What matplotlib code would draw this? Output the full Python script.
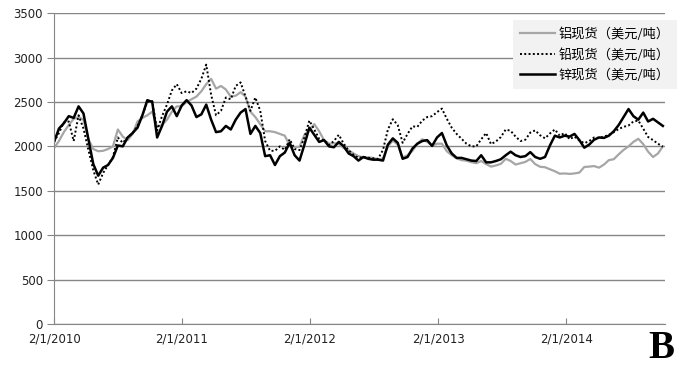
import matplotlib
matplotlib.use("Agg")
import matplotlib.pyplot as plt
import pandas as pd

# fortnightly spot prices, USD/t
dates = pd.date_range("2010-02-01", periods=125, freq="14D")

aluminium = [
    1980, 2060, 2160, 2240, 2310, 2330, 2300, 2080, 1970, 1945,
    1950, 1970, 2000, 2190, 2110, 2070, 2140, 2280, 2320, 2350,
    2390, 2220, 2240, 2300, 2390, 2450, 2450, 2500, 2530, 2560,
    2620, 2700, 2760, 2650, 2680, 2640, 2560, 2570, 2610, 2560,
    2390, 2330, 2250, 2170, 2170, 2160, 2140, 2120, 2010, 1990,
    1995, 2130, 2185, 2250, 2170, 2070, 2030, 2035, 2030, 1980,
    1955, 1920, 1890, 1875, 1875, 1870, 1850, 1865, 2000, 2065,
    2020, 1875, 1900, 1950, 2030, 2080, 2050, 2010, 2030, 2030,
    1945, 1900, 1865, 1845, 1838, 1822, 1810, 1835, 1800, 1772,
    1785, 1803, 1860, 1835, 1795, 1810, 1825, 1858, 1800, 1770,
    1765, 1742, 1720, 1692, 1695, 1690, 1695, 1705, 1768, 1772,
    1778, 1760, 1795, 1845, 1855, 1910, 1960, 2000, 2050, 2085,
    2025, 1940, 1880, 1920, 2000,
]

lead = [
    2050, 2150, 2270, 2280, 2060, 2350, 2200, 1960, 1730, 1570,
    1700, 1790, 1880, 2100, 2040, 2100, 2150, 2230, 2350, 2500,
    2510, 2180, 2340, 2470, 2630, 2700, 2600, 2620, 2600, 2650,
    2760, 2920, 2580, 2350, 2400, 2550, 2530, 2680, 2720, 2560,
    2400, 2550, 2400, 2060, 1950, 1950, 2000, 1960, 2080, 1970,
    1958, 2100, 2290, 2190, 2085, 2070, 2015, 2060, 2130, 2030,
    1955, 1905, 1870, 1880, 1872, 1865, 1860, 1960, 2190, 2305,
    2240, 2040, 2140, 2225, 2220, 2290, 2330, 2340, 2385, 2425,
    2310, 2210, 2140, 2085, 2030, 2000, 2000, 2080, 2150, 2025,
    2055, 2105, 2190, 2175, 2110, 2060, 2075, 2155, 2180, 2125,
    2090, 2145, 2190, 2120, 2150, 2080, 2110, 2065, 2035, 2060,
    2100, 2095, 2110, 2130, 2160, 2195, 2220, 2235, 2280, 2290,
    2200, 2105, 2070, 2030, 1995,
]

zinc = [
    2050, 2200, 2260, 2340, 2320, 2450, 2370, 2080, 1800, 1670,
    1760, 1790, 1870, 2010, 2000, 2100, 2150, 2210, 2350, 2520,
    2500, 2100, 2230, 2390, 2450, 2340, 2460, 2520, 2460, 2330,
    2360, 2470, 2300, 2160, 2170, 2230, 2190, 2300, 2380, 2420,
    2140, 2230, 2150, 1890, 1900, 1790, 1890, 1930, 2040, 1900,
    1840, 2020, 2210, 2130, 2050, 2070, 2000, 1990, 2050, 2000,
    1920, 1890, 1840, 1880, 1860, 1850, 1850, 1840, 2020, 2090,
    2040, 1860, 1880, 1975, 2030, 2060, 2070, 2005, 2100, 2150,
    2010, 1920, 1870, 1870, 1855, 1840, 1835, 1900, 1820, 1820,
    1835, 1855, 1900, 1940, 1900, 1880, 1890, 1935, 1880, 1860,
    1880, 2010, 2120, 2100, 2120, 2110, 2140, 2070, 1985, 2020,
    2075, 2100, 2095, 2120, 2170, 2240, 2330, 2420, 2340, 2300,
    2380, 2280, 2310, 2270, 2230,
]

labels = ["铝现货（美元/吨）", "铅现货（美元/吨）", "锌现货（美元/吨）"]
tick_dates = pd.to_datetime(["2010-02-01", "2011-02-01", "2012-02-01",
                             "2013-02-01", "2014-02-01"])
tick_labels = ["2/1/2010", "2/1/2011", "2/1/2012", "2/1/2013", "2/1/2014"]

plt.rcParams["font.family"] = ["Noto Sans CJK SC", "DejaVu Sans"]

fig = plt.figure(figsize=(6.83, 3.75), dpi=100)
ax = fig.add_axes([0.0791, 0.136, 0.8945, 0.829])

ax.plot(dates, aluminium, color="#a6a6a6", lw=1.6, label=labels[0])
ax.plot(dates, lead, color="black", lw=1.4, ls=(0, (1, 1.2)), label=labels[1])
ax.plot(dates, zinc, color="black", lw=1.8, label=labels[2])

ax.set_ylim(0, 3500)
ax.set_yticks(range(0, 3501, 500))
ax.set_xlim(pd.Timestamp("2010-02-01"), pd.Timestamp("2014-11-09"))
ax.set_xticks(tick_dates)
ax.set_xticklabels(tick_labels)

ax.grid(axis="y", color="#868686", lw=1)
ax.set_axisbelow(True)
for s in ["top", "right"]:
    ax.spines[s].set_visible(False)
for s in ["left", "bottom"]:
    ax.spines[s].set_color("#868686")
ax.tick_params(axis="y", direction="out", length=5, color="#868686",
               labelsize=8.5, labelcolor="#222222", pad=3)
ax.tick_params(axis="x", direction="in", length=4, color="#868686",
               labelsize=8.5, labelcolor="#222222", pad=6)
for t in ax.get_xticklabels() + ax.get_yticklabels():
    t.set_family("DejaVu Sans")

leg = ax.legend(loc="upper right", bbox_to_anchor=(0.991, 0.947),
                bbox_transform=fig.transFigure, fontsize=9.5, frameon=True,
                fancybox=False, facecolor="#f2f2f2", edgecolor="none",
                framealpha=1, handlelength=2.6, handletextpad=0.3,
                labelspacing=0.55, borderpad=0.55, borderaxespad=0)

fig.text(0.988, 0.02, "B", family="Liberation Serif", weight="bold",
         fontsize=28, ha="right", va="bottom")

fig.savefig("out.png", dpi=100)
